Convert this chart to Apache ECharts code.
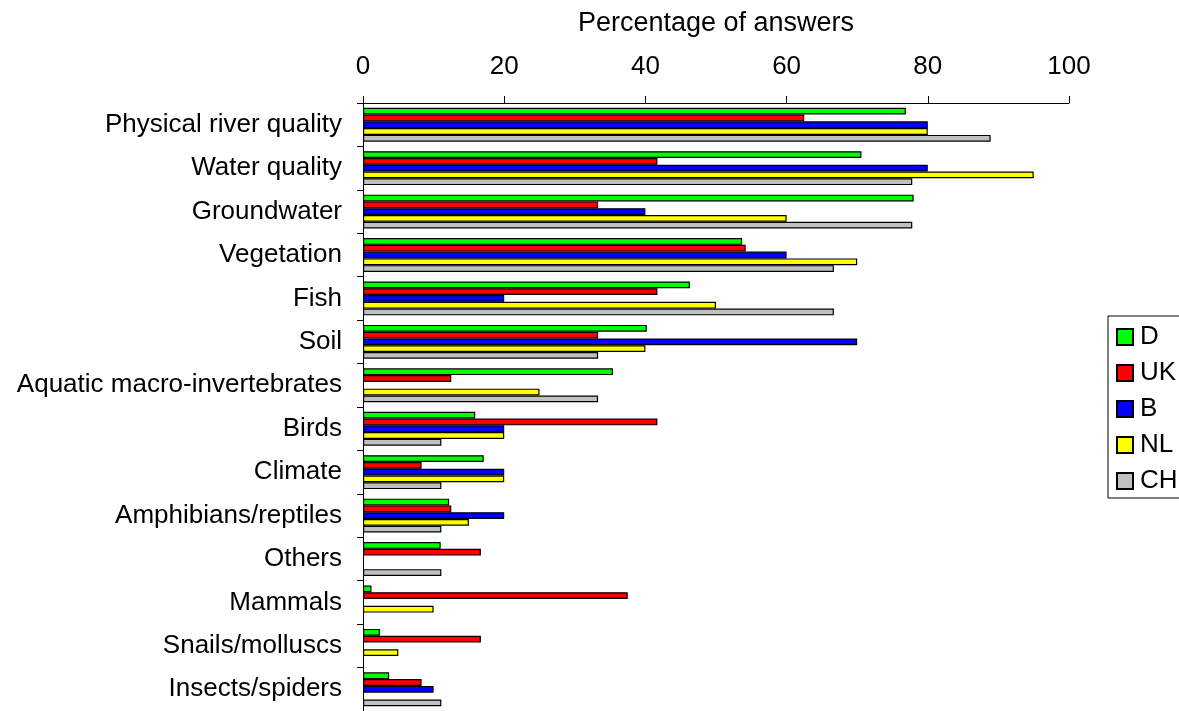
<!DOCTYPE html>
<html>
<head>
<meta charset="utf-8">
<script src="https://cdn.jsdelivr.net/npm/echarts@6/dist/echarts.min.js"></script>
<style>html,body{margin:0;padding:0;background:#fff;}#c{width:1179px;height:711px;}</style>
</head>
<body>
<div id="c"></div>
<script>
const categories = ["Physical river quality","Water quality","Groundwater","Vegetation","Fish","Soil","Aquatic macro-invertebrates","Birds","Climate","Amphibians/reptiles","Others","Mammals","Snails/molluscs","Insects/spiders"];
const seriesNames = ["D","UK","B","NL","CH"];
const seriesColors = ["#00FF00","#FF0000","#0000FF","#FFFF00","#C0C0C0"];
const valuesD  = [76.9, 70.6, 78.0, 53.7, 46.3, 40.2, 35.4, 15.9, 17.1, 12.2, 11.0, 1.2, 2.4, 3.7];
const valuesUK = [62.5, 41.7, 33.3, 54.2, 41.7, 33.3, 12.5, 41.7, 8.3, 12.5, 16.7, 37.5, 16.7, 8.3];
const valuesB  = [80, 80, 40, 60, 20, 70, null, 20, 20, 20, null, null, null, 10];
const valuesNL = [80, 95, 60, 70, 50, 40, 25, 20, 20, 15, null, 10, 5, null];
const valuesCH = [88.9, 77.8, 77.8, 66.7, 66.7, 33.3, 33.3, 11.1, 11.1, 11.1, 11.1, null, null, 11.1];
const xTicks = [0, 20, 40, 60, 80, 100];
const allValues = [valuesD, valuesUK, valuesB, valuesNL, valuesCH];

const font = "Liberation Sans";
const chart = echarts.init(document.getElementById('c'));
chart.setOption({
  animation: false,
  textStyle: { fontFamily: font },
  grid: { left: 363, right: 110, top: 103, bottom: 0, containLabel: false, outerBoundsMode: 'none' },
  legend: {
    orient: 'vertical',
    left: 1108, top: 316,
    padding: [8, 30, 4, 8],
    borderColor: '#000', borderWidth: 1,
    itemWidth: 16, itemHeight: 16, itemGap: 10,
    icon: 'rect',
    textStyle: { fontSize: 26, color: '#000', fontFamily: font, lineHeight: 26, padding: [0,0,0,2] },
    data: seriesNames
  },
  xAxis: {
    type: 'value', position: 'top',
    min: xTicks[0], max: xTicks[xTicks.length-1], interval: 20,
    name: 'Percentage of answers', nameLocation: 'middle', nameGap: 66, nameMoveOverlap: false,
    nameTextStyle: { fontSize: 27, color: '#000', fontFamily: font },
    axisLine: { show: true, lineStyle: { color: '#000', width: 1 } },
    axisTick: { show: true, length: 7, lineStyle: { color: '#000' } },
    axisLabel: { fontSize: 26, color: '#000', margin: 23, fontFamily: font },
    splitLine: { show: false }
  },
  yAxis: {
    type: 'category', inverse: true, data: categories,
    axisLine: { show: true, lineStyle: { color: '#000', width: 1 } },
    axisTick: { show: true, length: 6, lineStyle: { color: '#000' } },
    axisLabel: { fontSize: 26, color: '#000', margin: 21, fontFamily: font },
    splitLine: { show: false }
  },
  series: seriesNames.map((n, i) => ({
    name: n, type: 'bar', data: allValues[i],
    barGap: '0%', barCategoryGap: '22%',
    itemStyle: { color: seriesColors[i], borderColor: '#000', borderWidth: 1.2 }
  }))
});
</script>
</body>
</html>
